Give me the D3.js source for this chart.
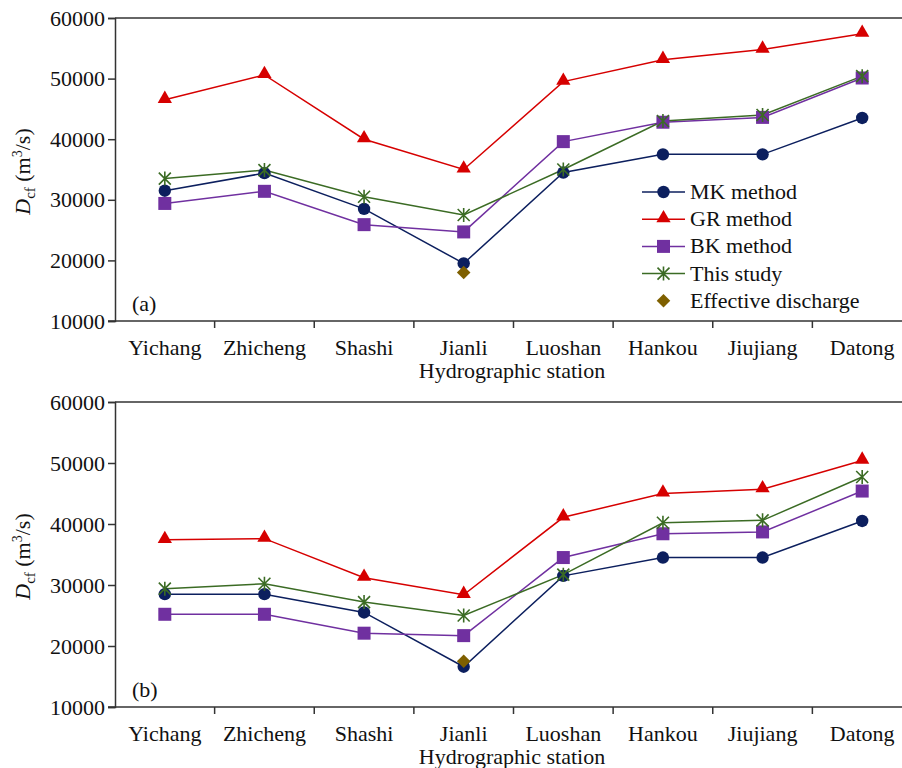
<!DOCTYPE html>
<html>
<head>
<meta charset="utf-8">
<script src="https://cdn.jsdelivr.net/npm/d3@7"></script>
<style>
  body { margin: 0; background: #fff; }
  text { font-family: "Liberation Serif", "Times New Roman", serif; fill: #111; }
</style>
</head>
<body>
<div id="chart"></div>
<script>
// stations along the river
var stations = ["Yichang", "Zhicheng", "Shashi", "Jianli", "Luoshan", "Hankou", "Jiujiang", "Datong"]
var yTicks = [10000, 20000, 30000, 40000, 50000, 60000]

// panel (a)
var mkA   = [31500, 34400, 28500, 19500, 34500, 37500, 37500, 43500]
var grA   = [46500, 50600, 40000, 35000, 49500, 53100, 54800, 57400]
var bkA   = [29400, 31400, 25900, 24700, 39600, 42800, 43600, 50100]
var studyA = [33500, 34900, 30500, 27500, 35000, 43000, 44000, 50400]
var effA  = [null, null, null, 18000, null, null, null, null]

// panel (b)
var mkB   = [28500, 28500, 25500, 16600, 31500, 34500, 34500, 40500]
var grB   = [37400, 37600, 31200, 28400, 41100, 45000, 45700, 50400]
var bkB   = [25200, 25200, 22100, 21700, 34500, 38400, 38700, 45400]
var studyB = [29400, 30200, 27200, 25000, 31700, 40200, 40600, 47700]
var effB  = [null, null, null, 17500, null, null, null, null]

var seriesNames = ["MK method", "GR method", "BK method", "This study", "Effective discharge"]
var colors = ["#0c1f5e", "#d60000", "#7030a0", "#3b6b24", "#7f6000"]

var W = 902, H = 768
var svg = d3.select("#chart").append("svg")
    .attr("width", W)
    .attr("height", H)

var x = d3.scaleBand()
    .domain(stations)
    .range([115, 912])

// marker drawing
function marker(g, i, cx, cy) {
    var c = colors[i]
    if (i == 0) {
        g.append("circle").attr("cx", cx).attr("cy", cy).attr("r", 6.2).attr("fill", c)
    } else if (i == 1) {
        g.append("path").attr("d", d3.symbol(d3.symbolTriangle, 88)())
            .attr("transform", "translate(" + cx + "," + (cy - 1) + ")").attr("fill", c)
    } else if (i == 2) {
        g.append("rect").attr("x", cx - 6.5).attr("y", cy - 6.5).attr("width", 13).attr("height", 13).attr("fill", c)
    } else if (i == 3) {
        var s = 6
        g.append("path")
            .attr("d", "M" + (cx - s) + "," + (cy - s) + "L" + (cx + s) + "," + (cy + s) +
                       "M" + (cx + s) + "," + (cy - s) + "L" + (cx - s) + "," + (cy + s) +
                       "M" + cx + "," + (cy - s - 1) + "L" + cx + "," + (cy + s + 1))
            .attr("stroke", c).attr("stroke-width", 1.6).attr("fill", "none")
    } else {
        // diamond = square turned 45deg
        g.append("rect").attr("x", -4.8).attr("y", -4.8).attr("width", 9.6).attr("height", 9.6)
            .attr("transform", "translate(" + cx + "," + cy + ") rotate(45)").attr("fill", c)
    }
}

function panel(top, bottom, data, label, showLegend) {
    var y = d3.scaleLinear().domain([10000, 60000]).range([bottom, top])
    var g = svg.append("g")

    // frame top line
    g.append("line").attr("x1", 115).attr("x2", W).attr("y1", top).attr("y2", top)
        .attr("stroke", "#333").attr("stroke-width", 1.5)

    // y axis
    var yAxis = g.append("g")
        .attr("transform", "translate(115,0)")
        .call(d3.axisLeft(y).tickValues(yTicks).tickSize(7).tickPadding(3).tickFormat(d3.format("d")))
    yAxis.selectAll("path, line").attr("stroke", "#333").attr("stroke-width", 1.5)
    yAxis.selectAll("text").style("font-size", "22px").style("font-family", "Liberation Serif")

    // x axis with ticks between stations
    var xAxis = g.append("g").attr("transform", "translate(0," + bottom + ")")
    xAxis.append("line").attr("x1", 108).attr("x2", W).attr("stroke", "#333").attr("stroke-width", 1.5)
    stations.forEach(function(s, k) {
        if (k > 0) {
            xAxis.append("line").attr("x1", x(s)).attr("x2", x(s)).attr("y1", 0).attr("y2", 7)
                .attr("stroke", "#333").attr("stroke-width", 1.5)
        }
        xAxis.append("text").attr("x", x(s) + x.bandwidth() / 2).attr("y", 34)
            .attr("text-anchor", "middle").style("font-size", "22px").text(s)
    })
    xAxis.append("text").attr("x", 512).attr("y", 57).attr("text-anchor", "middle")
        .style("font-size", "22px").text("Hydrographic station")

    // y label
    var yl = g.append("text")
        .attr("transform", "translate(30," + ((top + bottom) / 2 + 2) + ") rotate(-90)")
        .attr("text-anchor", "middle").style("font-size", "22px")
    yl.append("tspan").style("font-style", "italic").text("D")
    yl.append("tspan").attr("dy", 5).style("font-size", "15px").text("cf")
    yl.append("tspan").attr("dy", -5).text(" (m")
    yl.append("tspan").attr("dy", -8).style("font-size", "14px").text("3")
    yl.append("tspan").attr("dy", 8).text("/s)")

    // panel label
    g.append("text").attr("x", 132).attr("y", bottom - 10).style("font-size", "22px").text(label)

    var cx = function(k) { return x(stations[k]) + x.bandwidth() / 2 }

    // lines
    data.forEach(function(vals, i) {
        if (i < 4) {
            var line = d3.line()
                .x(function(d, k) { return cx(k) })
                .y(function(d) { return y(d) })
            g.append("path").datum(vals).attr("d", line)
                .attr("fill", "none").attr("stroke", colors[i]).attr("stroke-width", 1.5)
        }
    })
    // markers
    data.forEach(function(vals, i) {
        vals.forEach(function(v, k) {
            if (v != null) marker(g, i, cx(k), y(v))
        })
    })

    if (showLegend) {
        var lg = g.append("g")
        seriesNames.forEach(function(n, i) {
            var ly = 192 + i * 27.2
            if (i < 4) {
                lg.append("line").attr("x1", 642).attr("x2", 685).attr("y1", ly).attr("y2", ly)
                    .attr("stroke", colors[i]).attr("stroke-width", 1.5)
            }
            marker(lg, i, 663.5, ly)
            lg.append("text").attr("x", 690).attr("y", ly + 7).style("font-size", "22px").text(n)
        })
    }
}

panel(18, 321, [mkA, grA, bkA, studyA, effA], "(a)", true)
panel(402, 707, [mkB, grB, bkB, studyB, effB], "(b)", false)
</script>
</body>
</html>
